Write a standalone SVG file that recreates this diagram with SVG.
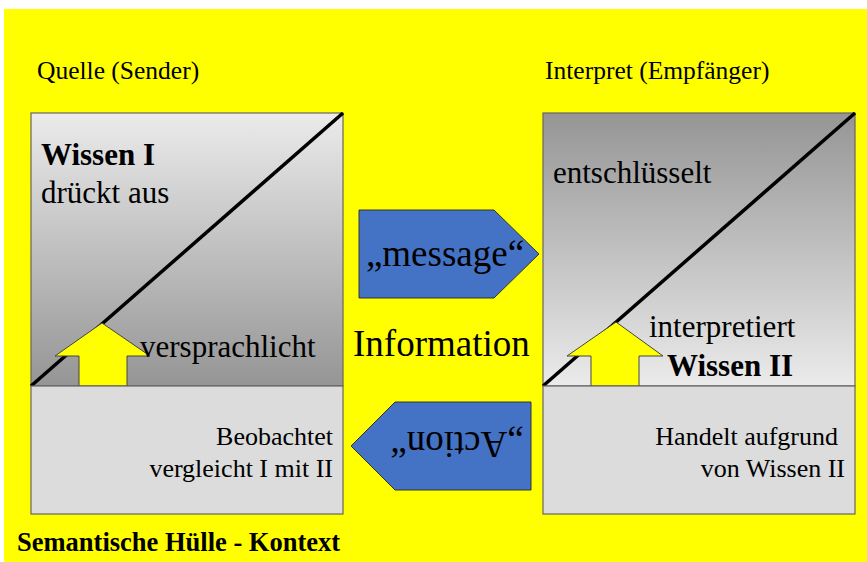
<svg xmlns="http://www.w3.org/2000/svg" width="867" height="562" viewBox="0 0 867 562">
<style>
text{font-family:"Liberation Serif","Times New Roman",serif;fill:#000}
.lbl{font-size:25.5px}
.p{font-size:31px}
.b{font-weight:bold}
.low{font-size:26px;text-anchor:end}
.big{font-size:37px}
.frame{stroke:#666;stroke-width:1.2}
.diag{stroke:#000;stroke-width:3.5}
.up{fill:#ffff00;stroke:#444;stroke-width:1}
.blue{fill:#4472c4;stroke:#333;stroke-width:1}
</style>
<defs>
<linearGradient id="gL" x1="0" y1="0" x2="0" y2="1"><stop offset="0" stop-color="#ebebeb"/><stop offset="1" stop-color="#959595"/></linearGradient>
<linearGradient id="gR" x1="0" y1="0" x2="0" y2="1"><stop offset="0" stop-color="#959595"/><stop offset="1" stop-color="#ebebeb"/></linearGradient>
</defs>
<rect x="0" y="0" width="867" height="562" fill="#fff"/>
<rect x="4" y="9" width="863" height="553" fill="#ffff00"/>
<g id="sender">
<text class="lbl" x="37" y="79">Quelle (Sender)</text>
<rect class="frame" x="31" y="113" width="312" height="273" fill="url(#gL)"/>
<line class="diag" x1="31" y1="386" x2="343" y2="113"/>
<polygon class="up" points="79,386 79,356 55,356 102,323 150,356 127,356 127,386"/>
<text class="p b" x="41" y="165">Wissen I</text>
<text class="p" x="41" y="203">drückt aus</text>
<text class="p" x="140" y="357">versprachlicht</text>
<rect class="frame" x="31" y="386" width="312" height="128" fill="#dcdcdc"/>
<text class="low" x="333" y="445">Beobachtet</text>
<text class="low" x="333" y="477">vergleicht I mit II</text>
</g>
<g id="receiver">
<text class="lbl" x="545" y="79">Interpret (Empfänger)</text>
<rect class="frame" x="543" y="113" width="312" height="273" fill="url(#gR)"/>
<line class="diag" x1="543" y1="386" x2="855" y2="113"/>
<polygon class="up" points="591,386 591,356 567,356 616,322 663,356 639,356 639,386"/>
<text class="p" x="553" y="183">entschlüsselt</text>
<text class="p" x="649" y="337">interpretiert</text>
<text class="p b" x="667" y="376">Wissen II</text>
<rect class="frame" x="543" y="386" width="312" height="128" fill="#dcdcdc"/>
<text class="low" x="838" y="445">Handelt aufgrund</text>
<text class="low" x="845" y="477">von Wissen II</text>
</g>
<g id="connectors">
<g id="message">
<polygon class="blue" points="359,210 494,210 539,254 494,298 359,298"/>
<text class="big" x="445" y="266" text-anchor="middle">„message“</text>
</g>
<g id="action">
<polygon class="blue" points="531,402 395,402 351,446 395,490 531,490"/>
<text class="big" transform="translate(457,432) rotate(180)" x="0" y="0" text-anchor="middle">„Action“</text>
</g>
</g>
<g id="information">
<text class="big" x="353" y="356">Information</text>
</g>
<g id="context">
<text class="b" style="font-size:26.5px" x="17" y="551">Semantische Hülle - Kontext</text>
</g>
</svg>
